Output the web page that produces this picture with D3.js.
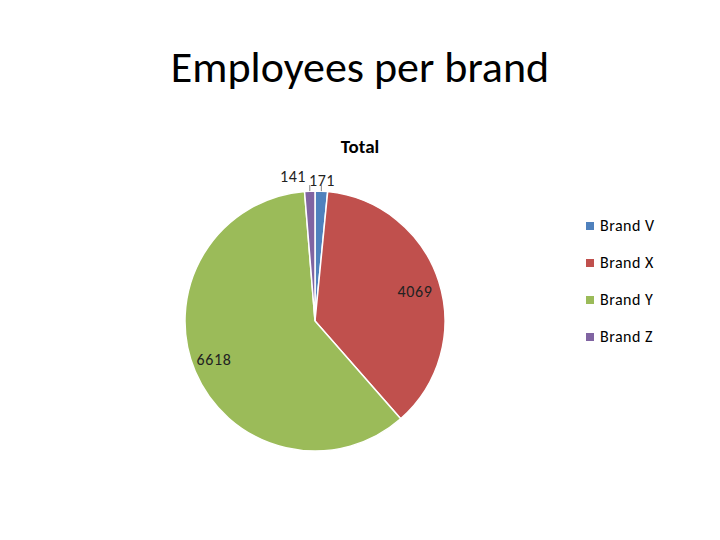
<!DOCTYPE html>
<html><head><meta charset="utf-8">
<script src="https://cdn.jsdelivr.net/npm/d3@7"></script>
<style>body{margin:0;background:#fff}</style>
</head><body>
<svg id="c" width="720" height="540"></svg>
<script>
const categories = ["Brand V", "Brand X", "Brand Y", "Brand Z"];
const values = [171, 4069, 6618, 141];
const colors = ["#4F81BD", "#C0504D", "#9BBB59", "#8064A2"];

const svg = d3.select("#c");
const font = "Carlito, 'Open Sans', 'Noto Sans', sans-serif";

svg.append("text").attr("x", 360).attr("y", 82).attr("text-anchor", "middle")
  .attr("font-family", font).attr("font-size", 44).attr("fill", "#000")
  .text("Employees per brand");

svg.append("text").attr("x", 360).attr("y", 153).attr("text-anchor", "middle")
  .attr("font-family", font).attr("font-size", 19).attr("font-weight", "bold")
  .text("Total");

const cx = 315, cy = 321, r = 130;
const pie = d3.pie().sort(null).value(d => d)(values);
const arc = d3.arc().innerRadius(0).outerRadius(r);
const g = svg.append("g").attr("transform", `translate(${cx},${cy})`);
g.selectAll("path").data(pie).join("path")
  .attr("d", arc).attr("fill", (d, i) => colors[i])
  .attr("stroke", "#fff").attr("stroke-width", 1.5);

// labels
const labelPos = [[322, 186, 16], [415, 297, 16], [214, 365, 16], [293, 182, 16]];
pie.forEach((d, i) => {
  const [x, y, fs] = labelPos[i];
  svg.append("text").attr("x", x).attr("y", y).attr("text-anchor", "middle")
    .attr("font-family", font).attr("font-size", fs).attr("fill", "#222")
    .attr("letter-spacing", 0.6)
    .text(values[i]);
});
// leader lines for small slices
const outer = d3.arc().innerRadius(r).outerRadius(r);
[0, 3].forEach(i => {
  const c = outer.centroid(pie[i]);
  const px = cx + c[0], py = cy + c[1];
  svg.append("line").attr("x1", px).attr("y1", py).attr("x2", px).attr("y2", py - 6)
    .attr("stroke", "#666").attr("stroke-width", 0.8);
});

// legend
const leg = svg.append("g");
categories.forEach((c, i) => {
  const y = 226 + i * 37;
  leg.append("rect").attr("x", 586).attr("y", y - 4).attr("width", 8).attr("height", 8).attr("fill", colors[i]);
  leg.append("text").attr("x", 600).attr("y", y + 5).attr("font-family", font)
    .attr("font-size", 16).attr("letter-spacing", 0.5).attr("fill", "#000").text(c);
});
</script>
</body></html>
